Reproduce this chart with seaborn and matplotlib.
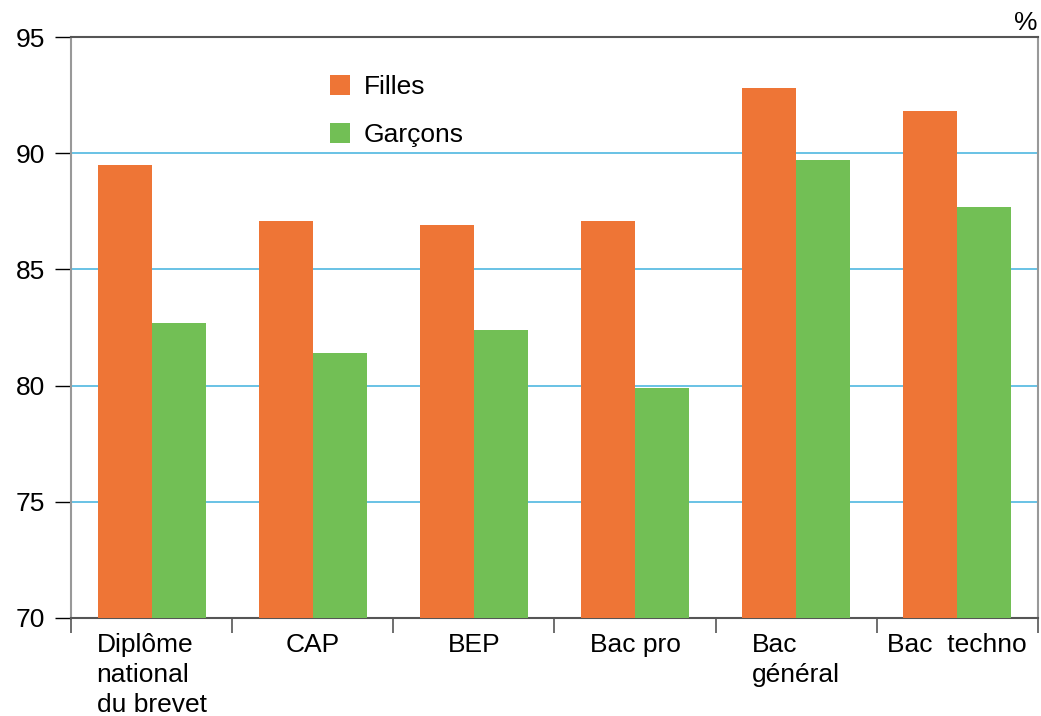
import pandas as pd
import matplotlib
matplotlib.use("Agg")
import matplotlib.pyplot as plt
import seaborn as sns
from matplotlib.ticker import FixedLocator

# Données
categories = ['Diplôme\nnational\ndu brevet', 'CAP', 'BEP', 'Bac pro', 'Bac\ngénéral', 'Bac  techno']
filles = [89.5, 87.1, 86.9, 87.1, 92.8, 91.8]
garcons = [82.7, 81.4, 82.4, 79.9, 89.7, 87.7]
series = ['Filles', 'Garçons']
y_ticks = [70, 75, 80, 85, 90, 95]

df = pd.DataFrame({
    'categorie': categories * 2,
    'sexe': [series[0]] * len(categories) + [series[1]] * len(categories),
    'taux': filles + garcons,
})

sns.set_style('white')
plt.rcParams['font.family'] = ['Liberation Sans', 'DejaVu Sans']
plt.rcParams['text.color'] = 'black'
plt.rcParams['xtick.labelcolor'] = 'black'
plt.rcParams['ytick.labelcolor'] = 'black'

fig = plt.figure(figsize=(10.41, 7.16), dpi=100)
ax = fig.add_axes([0.0682, 0.137, 0.9288, 0.8113])

sns.barplot(data=df, x='categorie', y='taux', hue='sexe', order=categories,
            hue_order=series, palette=['#EE7536', '#72BF55'], width=0.67,
            saturation=1, linewidth=0, ax=ax, zorder=3)

ax.set_ylim(70, 95)
ax.set_xlim(-0.5, len(categories) - 0.5)
ax.set_yticks(y_ticks)
ax.set_yticklabels([str(v) for v in y_ticks], fontsize=19)
ax.tick_params(axis='y', direction='out', length=11.5, width=1, color='black', pad=7, left=True)

# lignes de grille bleues
for v in y_ticks[1:-1]:
    ax.axhline(v, color='#4FB8E0', linewidth=1.2, zorder=1)

# étiquettes x
ax.set_xticks(range(len(categories)))
ax.set_xticklabels(categories, fontsize=19, multialignment='left', linespacing=1.32)
ax.tick_params(axis='x', which='major', length=0, pad=11)
ax.xaxis.set_minor_locator(FixedLocator([i - 0.5 for i in range(len(categories) + 1)]))
ax.tick_params(axis='x', which='minor', direction='out', length=11, width=1.2, color='#555555', bottom=True)

ax.set_xlabel('')
ax.set_ylabel('')

for side in ['top', 'bottom']:
    ax.spines[side].set_color('#555555')
    ax.spines[side].set_linewidth(1.5)
ax.spines['left'].set_color('#999999')
ax.spines['left'].set_linewidth(1.5)
ax.spines['right'].set_color('#999999')
ax.spines['right'].set_linewidth(1.5)
ax.spines['top'].set_zorder(5)

ax.text(1.0, 1.003, '%', transform=ax.transAxes, ha='right', va='bottom', fontsize=19)

leg = ax.legend(loc='upper left', bbox_to_anchor=(0.243, 0.975), frameon=False, fontsize=19,
                handlelength=0.78, handleheight=0.78, handletextpad=0.5, labelspacing=0.9)

fig.savefig('out.png', dpi=100)
